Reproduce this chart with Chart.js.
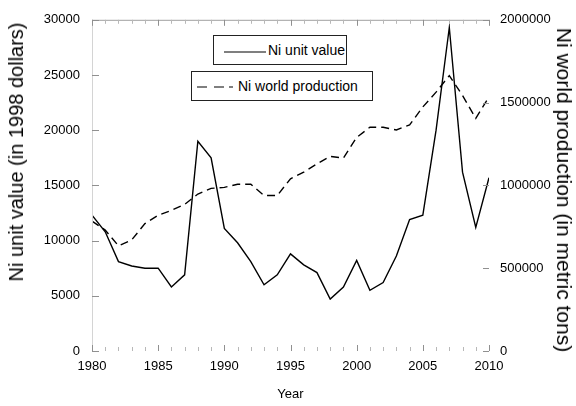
<!DOCTYPE html>
<html lang="en">
<head>
  <meta charset="UTF-8">
  <title>Nickel unit value and world production</title>
  <script src="https://cdn.jsdelivr.net/npm/chart.js"></script>
  <style>
    body {
      margin: 0;
      background: #fff;
      font-family: 'Liberation Sans', Arial, sans-serif;
      color: #000;
    }

    #wrap {
      position: relative;
      width: 576px;
      height: 406px;
    }

    .axis-title {
      position: absolute;
      white-space: nowrap;
      font-size: 20px;
      line-height: 24px;
    }

    #title-left {
      left: 16px;
      top: 152px;
      transform: translate(-50%, -50%) rotate(-90deg);
    }

    #title-right {
      left: 564px;
      top: 190px;
      font-size: 21px;
      transform: translate(-50%, -50%) rotate(90deg);
    }

    .legend-box {
      position: absolute;
      border: 1px solid #222;
      background: #fff;
      font-size: 14px;
      box-sizing: border-box;
    }

    .legend-box svg {
      position: absolute;
      top: 0;
    }

    .legend-box span {
      position: absolute;
      top: 6px;
      white-space: nowrap;
    }
  </style>
</head>
<body>
  <div id="wrap">
    <canvas id="niChart"></canvas>
    <div class="axis-title" id="title-left">Ni unit value (in 1998 dollars)</div>
    <div class="axis-title" id="title-right">Ni world production (in metric tons)</div>

    <div class="legend-box" style="left:213px; top:35px; width:134px; height:30px;">
      <svg width="60" height="28" style="left:0;">
        <line x1="10" y1="16" x2="52" y2="16" stroke="#000" stroke-width="1.2"/>
      </svg>
      <span style="left:54px;">Ni unit value</span>
    </div>

    <div class="legend-box" style="left:191px; top:71px; width:182px; height:30px;">
      <svg width="50" height="28" style="left:0;">
        <line x1="5" y1="15" x2="41" y2="15" stroke="#000" stroke-width="1.2" stroke-dasharray="10,7,10,5,4,40"/>
      </svg>
      <span style="left:46px;">Ni world production</span>
    </div>
  </div>

  <script>
    const years = [
      1980, 1981, 1982, 1983, 1984, 1985, 1986, 1987, 1988, 1989,
      1990, 1991, 1992, 1993, 1994, 1995, 1996, 1997, 1998, 1999,
      2000, 2001, 2002, 2003, 2004, 2005, 2006, 2007, 2008, 2009, 2010
    ];

    // US$ per tonne, 1998 dollars
    const unitValue = [
      12300, 10800, 8100, 7700, 7500, 7500, 5800, 6900, 19000, 17500,
      11100, 9800, 8100, 6000, 6900, 8800, 7800, 7100, 4700, 5800,
      8200, 5500, 6200, 8600, 11900, 12300, 20000, 29300, 16200, 11200, 15700
    ];

    // metric tons
    const worldProduction = [
      784000, 730000, 635000, 671000, 769000, 820000, 849000, 885000, 948000, 982000,
      988000, 1007000, 1007000, 939000, 939000, 1040000, 1080000, 1130000, 1175000, 1165000,
      1290000, 1351000, 1351000, 1335000, 1365000, 1474000, 1563000, 1663000, 1543000, 1405000, 1534000
    ];

    const leftTicks = [0, 5000, 10000, 15000, 20000, 25000, 30000];
    const rightTicks = [0, 500000, 1000000, 1500000, 2000000];

    const tickFont = { family: "'Liberation Sans', Arial, sans-serif", size: 13 };

    // small inward tick marks plus the thin frame lines
    const frameTicks = {
      id: 'frameTicks',
      afterDraw(chart) {
        const { ctx, chartArea: a, scales } = chart;
        ctx.save();
        ctx.lineWidth = 1;

        ctx.strokeStyle = '#d4d4d4';
        ctx.beginPath();
        ctx.moveTo(a.left + 0.5, a.top);
        ctx.lineTo(a.left + 0.5, a.bottom);
        ctx.stroke();

        ctx.strokeStyle = '#a0a0a0';
        ctx.beginPath();
        ctx.moveTo(a.left, a.top + 0.5);
        ctx.lineTo(a.right, a.top + 0.5);
        ctx.stroke();

        years.forEach(yr => {
          const x = Math.round(scales.x.getPixelForValue(yr)) + 0.5;
          const major = yr % 5 === 0;
          const len = major ? 6 : 4;
          ctx.strokeStyle = major ? '#909090' : '#b8b8b8';
          ctx.beginPath();
          ctx.moveTo(x, a.bottom);
          ctx.lineTo(x, a.bottom - len);
          ctx.moveTo(x, a.top);
          ctx.lineTo(x, a.top + len);
          ctx.stroke();
        });

        ctx.strokeStyle = '#909090';
        leftTicks.forEach(v => {
          const y = Math.round(scales.y.getPixelForValue(v)) + 0.5;
          ctx.beginPath();
          ctx.moveTo(a.left, y);
          ctx.lineTo(a.left + 7, y);
          ctx.stroke();
        });
        rightTicks.forEach(v => {
          const y = Math.round(scales.y2.getPixelForValue(v)) + 0.5;
          ctx.beginPath();
          ctx.moveTo(a.right, y);
          ctx.lineTo(a.right - 6, y);
          ctx.stroke();
        });
        ctx.restore();
      }
    };

    // 'Year' is drawn by the x scale title
    const config = {
      type: 'line',
      data: {
        datasets: [
          {
            label: 'Ni unit value',
            data: years.map((yr, i) => ({ x: yr, y: unitValue[i] })),
            yAxisID: 'y',
            borderColor: '#000',
            borderWidth: 1.4,
            pointRadius: 0,
            tension: 0,
            fill: false
          },
          {
            label: 'Ni world production',
            data: years.map((yr, i) => ({ x: yr, y: worldProduction[i] })),
            yAxisID: 'y2',
            borderColor: '#000',
            borderWidth: 1.4,
            borderDash: [8, 5],
            pointRadius: 0,
            tension: 0,
            fill: false
          }
        ]
      },
      options: {
        responsive: true,
        maintainAspectRatio: false,
        animation: false,
        layout: { padding: { top: 15, left: 0, right: 0, bottom: 0 } },
        plugins: {
          legend: { display: false },
          tooltip: { enabled: false }
        },
        scales: {
          x: {
            type: 'linear',
            position: 'bottom',
            min: 1980,
            max: 2010,
            grid: { display: false, drawTicks: false },
            border: { display: false },
            ticks: {
              stepSize: 5,
              padding: 8,
              color: '#000',
              font: tickFont,
              maxRotation: 0,
              callback: v => String(v)
            },
            title: {
              display: true,
              text: 'Year',
              color: '#000',
              font: { family: tickFont.family, size: 13 },
              padding: { top: 0, bottom: 4 }
            },
            afterFit: s => { s.height = 55; }
          },
          y: {
            position: 'left',
            min: 0,
            max: 30000,
            grid: { display: false, drawTicks: false },
            border: { display: false },
            ticks: {
              stepSize: 5000,
              padding: 12,
              color: '#000',
              font: tickFont,
              callback: v => String(v)
            },
            afterFit: s => { s.width = 92; }
          },
          y2: {
            position: 'right',
            min: 0,
            max: 2000000,
            grid: { display: false, drawTicks: false },
            border: { display: false },
            ticks: {
              stepSize: 500000,
              padding: 11,
              color: '#000',
              font: tickFont,
              callback: v => String(v)
            },
            afterFit: s => { s.width = 87; }
          }
        }
      },
      plugins: [frameTicks]
    };

    new Chart(document.getElementById('niChart'), config);
  </script>
</body>
</html>
